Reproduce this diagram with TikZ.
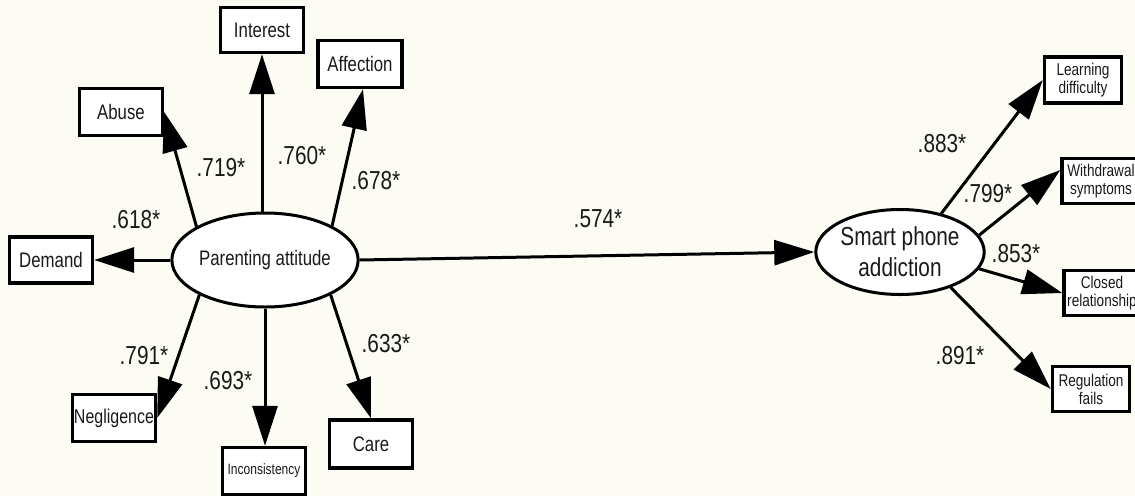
\documentclass[tikz,border=0pt]{standalone}
\usepackage{fontspec}
\setmainfont{Liberation Sans}[FakeStretch=0.8]
\usetikzlibrary{arrows.meta,shapes.geometric}
\definecolor{bgcream}{rgb}{0.99,0.99,0.96}
\definecolor{ink}{RGB}{26,26,26}
\tikzset{
  obsbox/.style={draw=black,line width=3.4pt,fill=white,inner sep=0pt,text=ink,align=center,
    font=\fontsize{21}{22}\selectfont},
  smallbox/.style={obsbox,font=\fontsize{17}{18}\selectfont},
  latent/.style={draw=black,line width=3pt,fill=white,ellipse,inner sep=0pt,text=ink,align=center},
  path/.style={line width=3pt,-{Triangle[length=40pt,width=25pt]}},
  coef/.style={text=ink,font=\fontsize{26}{28}\selectfont,inner sep=0pt}
}
\begin{document}
\begin{tikzpicture}[x=1pt,y=-1pt]
\node[fill=bgcream,draw=none,minimum width=1135pt,minimum height=496pt,inner sep=0pt,outer sep=0pt,anchor=north west] (bg) at (0,0) {};
\useasboundingbox (0,0) rectangle (1135,496);
% latent variables
\node[latent,minimum width=168pt,minimum height=94pt,font=\fontsize{21}{22}\selectfont] (PA) at (265,260) {Parenting attitude};
\node[latent,minimum width=154pt,minimum height=85pt,font=\fontsize{26}{31}\selectfont] (SPA) at (900,252) {Smart phone\\addiction};
% indicators of parenting attitude
\node[obsbox,minimum width=83pt,minimum height=45pt] (Int) at (262,30) {Interest};
\node[obsbox,minimum width=84pt,minimum height=47pt] (Aff) at (360,64) {Affection};
\node[obsbox,minimum width=83pt,minimum height=47pt] (Abu) at (121,112) {Abuse};
\node[obsbox,minimum width=83pt,minimum height=46pt] (Dem) at (51,260) {Demand};
\node[obsbox,minimum width=83pt,minimum height=47pt,font=\fontsize{20}{21}\selectfont] (Neg) at (114,418) {Negligence};
\node[obsbox,minimum width=83pt,minimum height=47pt,font=\fontsize{15}{16}\selectfont] (Inc) at (264,471) {Inconsistency};
\node[obsbox,minimum width=83pt,minimum height=48pt] (Car) at (371,444) {Care};
% indicators of smart phone addiction
\node[smallbox,minimum width=77pt,minimum height=46pt] (Lea) at (1083,80) {Learning\\difficulty};
\node[smallbox,minimum width=78pt,minimum height=45pt] (Wit) at (1101,181) {Withdrawal\\symptoms};
\node[smallbox,minimum width=76pt,minimum height=45pt] (Clo) at (1102,293) {Closed\\relationship};
\node[smallbox,minimum width=77pt,minimum height=45pt] (Reg) at (1091,389) {Regulation\\fails};
% paths
\draw[path] (PA.north -| Int.south) -- (Int.south);
\draw[path] (PA.27) -- ([xshift=3pt]Aff.south);
\draw[path] (PA.154) -- (Abu.east);
\draw[path] (PA.west) -- (Dem.east);
\draw[path] (PA.208) -- (Neg.east);
\draw[path] (PA.south) -- (PA.south |- Inc.north);
\draw[path] (PA.332) -- (Car.north);
\draw[path] (PA.east) -- (SPA.west);
\draw[path] (SPA.43) -- (Lea.west);
\draw[path] (SPA.12) -- ([yshift=11pt]Wit.west);
\draw[path] (SPA.348) -- (Clo.west);
\draw[path] (SPA.325) -- (Reg.west);
% coefficients
\node[coef] (c1) at (221,168) {.719*};
\node[coef] (c2) at (302,156) {.760*};
\node[coef] (c3) at (376,181) {.678*};
\node[coef] (c4) at (136,220) {.618*};
\node[coef] (c5) at (144,356) {.791*};
\node[coef] (c6) at (228,381) {.693*};
\node[coef] (c7) at (386,344) {.633*};
\node[coef] (c8) at (598,219) {.574*};
\node[coef] (c9) at (942,144) {.883*};
\node[coef] (c10) at (988,194) {.799*};
\node[coef] (c11) at (1016,254) {.853*};
\node[coef] (c12) at (960,356) {.891*};
\end{tikzpicture}
\end{document}
